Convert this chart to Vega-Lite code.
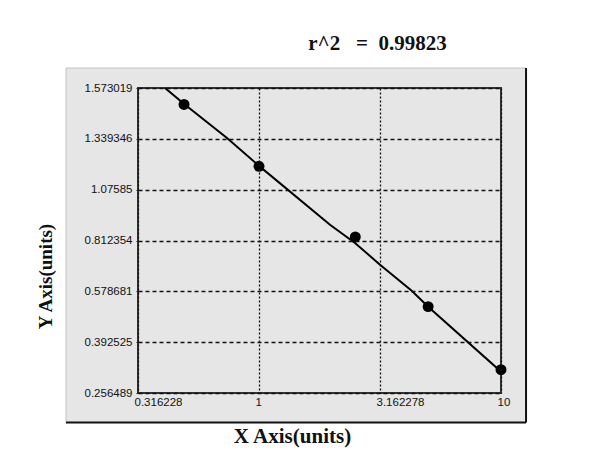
{
  "$schema": "https://vega.github.io/schema/vega-lite/v6.json",
  "width": 363,
  "height": 305,
  "autosize": {"type": "none"},
  "padding": {"left": 138, "top": 88, "right": 99, "bottom": 65},
  "background": "white",
  "config": {"view": {"stroke": null}},
  "title": {
    "text": "r^2\u00a0\u00a0\u00a0=\u00a0\u00a00.99823",
    "font": "Liberation Serif",
    "fontSize": 21,
    "fontWeight": "bold",
    "color": "#111",
    "anchor": "middle",
    "dx": 58,
    "offset": -4,
    "baseline": "alphabetic"
  },
  "data": {"values": [{}]},
  "datasets": {
    "points": [
      {"x": 0.49, "y": 1.4976},
      {"x": 1, "y": 1.1968},
      {"x": 2.5, "y": 0.8306},
      {"x": 5, "y": 0.5227},
      {"x": 10, "y": 0.3189}
    ],
    "fit": [
      {"x": 0.4089, "y": 1.573},
      {"x": 0.492, "y": 1.4986},
      {"x": 0.7396, "y": 1.3422},
      {"x": 1.0, "y": 1.1991},
      {"x": 1.965, "y": 0.8943},
      {"x": 2.5, "y": 0.7999},
      {"x": 3.1623, "y": 0.7011},
      {"x": 4.276, "y": 0.5815},
      {"x": 5.0, "y": 0.5223},
      {"x": 10, "y": 0.3135}
    ]
  },
  "layer": [
    {
      "mark": {"type": "rect", "fill": "#e6e6e6", "stroke": "#c4c4c4", "strokeWidth": 1, "clip": false},
      "encoding": {
        "x": {
          "datum": 0.1594, "type": "quantitative",
          "scale": {"type": "log", "domain": [0.316228, 10], "nice": false},
          "axis": {
            "values": [0.316228, 1, 3.162278, 10],
            "format": ".6~f",
            "title": "X Axis(units)",
            "grid": true, "gridDash": [2, 2], "gridColor": "#111", "gridWidth": 1.3,
            "ticks": false, "tickSize": 0,
            "labelPadding": 3, "labelAlign": "left", "labelOffset": -4,
            "labelFont": "Liberation Sans", "labelFontSize": 11.5, "labelColor": "#111",
            "labelOverlap": false, "labelBound": false, "labelFlush": false,
            "domain": false,
            "titleFont": "Liberation Serif", "titleFontSize": 21, "titleFontWeight": "bold", "titleColor": "#111",
            "titleX": 154, "titleY": 49, "titleBaseline": "alphabetic", "titleAlign": "center",
            "zindex": 1
          }
        },
        "x2": {"datum": 12.69},
        "y": {
          "datum": 1.6649, "type": "quantitative",
          "scale": {"type": "linear", "domain": [0.256489, 0.392525, 0.578681, 0.812354, 1.07585, 1.339346, 1.573019], "range": [305, 254.17, 203.33, 152.5, 101.67, 50.83, 0], "nice": false, "zero": false},
          "axis": {
            "values": [0.256489, 0.392525, 0.578681, 0.812354, 1.07585, 1.339346, 1.573019],
            "format": ".6~f",
            "title": "Y Axis(units)",
            "grid": true, "gridDash": [4, 3], "gridColor": "#111", "gridWidth": 1.3,
            "ticks": true, "tickSize": 4, "tickColor": "#222", "tickDash": [2, 2],
            "labelPadding": 2,
            "labelFont": "Liberation Sans", "labelFontSize": 11.5, "labelColor": "#111",
            "labelOverlap": false, "labelBound": false, "labelFlush": false,
            "domain": false,
            "titleFont": "Liberation Serif", "titleFontSize": 19, "titleFontWeight": "bold", "titleColor": "#111",
            "titleAngle": 270, "titleX": -87, "titleY": 188, "titleBaseline": "alphabetic", "titleAlign": "center",
            "zindex": 1
          }
        },
        "y2": {"datum": 0.1778}
      }
    },
    {
      "mark": {"type": "rule", "color": "#111", "strokeWidth": 2, "clip": false},
      "encoding": {
        "x": {"datum": 12.69, "type": "quantitative"},
        "y": {"datum": 1.6649, "type": "quantitative"},
        "y2": {"datum": 0.1778}
      }
    },
    {
      "mark": {"type": "rule", "color": "#111", "strokeWidth": 2, "clip": false},
      "encoding": {
        "x": {"datum": 0.1594, "type": "quantitative"},
        "x2": {"datum": 12.69},
        "y": {"datum": 0.1778, "type": "quantitative"}
      }
    },
    {
      "mark": {"type": "rect", "fill": null, "fillOpacity": 0, "stroke": "#333", "strokeWidth": 2, "clip": false},
      "encoding": {
        "x": {"datum": 0.316228, "type": "quantitative"},
        "x2": {"datum": 10},
        "y": {"datum": 1.573019, "type": "quantitative"},
        "y2": {"datum": 0.256489}
      }
    },
    {
      "data": {"name": "fit"},
      "mark": {"type": "line", "color": "black", "strokeWidth": 2, "clip": true},
      "encoding": {
        "x": {"field": "x", "type": "quantitative"},
        "y": {"field": "y", "type": "quantitative"}
      }
    },
    {
      "data": {"name": "points"},
      "mark": {"type": "point", "filled": true, "shape": "circle", "size": 120, "color": "black", "opacity": 1},
      "encoding": {
        "x": {"field": "x", "type": "quantitative"},
        "y": {"field": "y", "type": "quantitative"}
      }
    }
  ]
}
